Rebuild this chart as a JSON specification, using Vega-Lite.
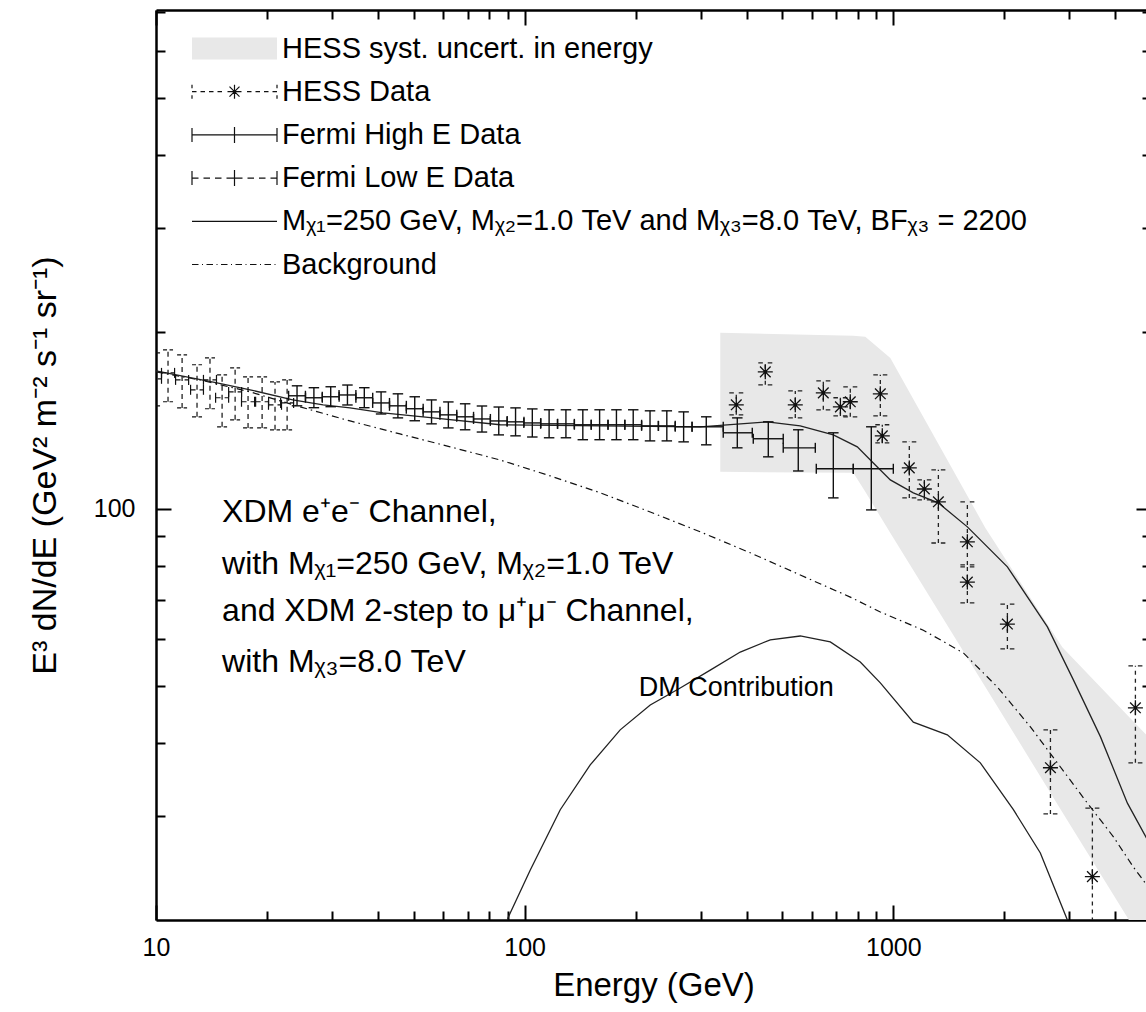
{
  "$schema": "https://vega.github.io/schema/vega-lite/v6.json",
  "width": 995,
  "height": 910,
  "autosize": {"type": "none"},
  "padding": {"left": 156, "top": 10, "right": -5, "bottom": 92},
  "config": {
    "view": {"stroke": null},
    "font": "Liberation Sans",
    "axis": {
      "grid": false,
      "domainColor": "black",
      "domainWidth": 2.5,
      "tickColor": "black",
      "tickWidth": 2,
      "labelFont": "Liberation Sans",
      "labelFontSize": 25,
      "labelColor": "black",
      "labelFlush": false,
      "labelOverlap": false,
      "titleFont": "Liberation Sans",
      "titleFontSize": 33,
      "titleFontWeight": "normal",
      "titleColor": "black"
    }
  },
  "datasets": {
    "curves": [
      {"curve": "model", "E": 10, "flux": 171.7},
      {"curve": "model", "E": 14.64, "flux": 163.8},
      {"curve": "model", "E": 18.0, "flux": 159.4},
      {"curve": "model", "E": 23.5, "flux": 153.2},
      {"curve": "model", "E": 28.4, "flux": 150.3},
      {"curve": "model", "E": 33.6, "flux": 148.5},
      {"curve": "model", "E": 41.3, "flux": 145.6},
      {"curve": "model", "E": 56.4, "flux": 142.8},
      {"curve": "model", "E": 85.8, "flux": 139.0},
      {"curve": "model", "E": 160.3, "flux": 138.4},
      {"curve": "model", "E": 299.5, "flux": 137.9},
      {"curve": "model", "E": 455, "flux": 140.6},
      {"curve": "model", "E": 559, "flux": 138.4},
      {"curve": "model", "E": 687.5, "flux": 133.6},
      {"curve": "model", "E": 798.5, "flux": 127.5},
      {"curve": "model", "E": 882.6, "flux": 119.7},
      {"curve": "model", "E": 981.5, "flux": 112.0},
      {"curve": "model", "E": 1133, "flux": 106.5},
      {"curve": "model", "E": 1324, "flux": 102.4},
      {"curve": "model", "E": 1588, "flux": 93.2},
      {"curve": "model", "E": 2039, "flux": 79.7},
      {"curve": "model", "E": 2618, "flux": 63.0},
      {"curve": "model", "E": 3079, "flux": 51.2},
      {"curve": "model", "E": 3645, "flux": 41.0},
      {"curve": "model", "E": 4315, "flux": 31.6},
      {"curve": "model", "E": 4982, "flux": 26.8},
      {"curve": "bg", "E": 10, "flux": 171.0},
      {"curve": "bg", "E": 13.16, "flux": 165.7},
      {"curve": "bg", "E": 18.0, "flux": 158.1},
      {"curve": "bg", "E": 24.6, "flux": 149.1},
      {"curve": "bg", "E": 33.6, "flux": 141.1},
      {"curve": "bg", "E": 45.9, "flux": 134.1},
      {"curve": "bg", "E": 62.8, "flux": 127.5},
      {"curve": "bg", "E": 85.8, "flux": 121.1},
      {"curve": "bg", "E": 117.3, "flux": 113.8},
      {"curve": "bg", "E": 160.3, "flux": 106.5},
      {"curve": "bg", "E": 219.1, "flux": 98.8},
      {"curve": "bg", "E": 299.5, "flux": 91.4},
      {"curve": "bg", "E": 409.2, "flux": 84.2},
      {"curve": "bg", "E": 559.2, "flux": 77.2},
      {"curve": "bg", "E": 764.3, "flux": 70.8},
      {"curve": "bg", "E": 922, "flux": 66.8},
      {"curve": "bg", "E": 1206, "flux": 62.2},
      {"curve": "bg", "E": 1549, "flux": 56.9},
      {"curve": "bg", "E": 1915, "flux": 49.8},
      {"curve": "bg", "E": 2354, "flux": 42.6},
      {"curve": "bg", "E": 2786, "flux": 37.0},
      {"curve": "bg", "E": 3361, "flux": 31.6},
      {"curve": "bg", "E": 3954, "flux": 27.7},
      {"curve": "bg", "E": 4480, "flux": 24.6},
      {"curve": "bg", "E": 4982, "flux": 22.5},
      {"curve": "dm", "E": 85, "flux": 17.0},
      {"curve": "dm", "E": 90.2, "flux": 20.2},
      {"curve": "dm", "E": 103.5, "flux": 24.3},
      {"curve": "dm", "E": 124.9, "flux": 30.8},
      {"curve": "dm", "E": 150.6, "flux": 36.7},
      {"curve": "dm", "E": 181.6, "flux": 42.1},
      {"curve": "dm", "E": 219.1, "flux": 46.4},
      {"curve": "dm", "E": 264.2, "flux": 49.6},
      {"curve": "dm", "E": 318.7, "flux": 53.2},
      {"curve": "dm", "E": 384.4, "flux": 57.1},
      {"curve": "dm", "E": 463.7, "flux": 59.9},
      {"curve": "dm", "E": 559.2, "flux": 60.8},
      {"curve": "dm", "E": 674.5, "flux": 59.4},
      {"curve": "dm", "E": 813.6, "flux": 54.9},
      {"curve": "dm", "E": 922, "flux": 50.6},
      {"curve": "dm", "E": 1133, "flux": 43.4},
      {"curve": "dm", "E": 1401, "flux": 41.3},
      {"curve": "dm", "E": 1722, "flux": 37.0},
      {"curve": "dm", "E": 2117, "flux": 30.8},
      {"curve": "dm", "E": 2505, "flux": 26.0},
      {"curve": "dm", "E": 2966, "flux": 20.0},
      {"curve": "dm", "E": 3100, "flux": 18.0}
    ],
    "band": [
      {"E": 339.3, "upper": 199.2, "lower": 115.6},
      {"E": 778.9, "upper": 196.9, "lower": 115.2},
      {"E": 839.5, "upper": 196.1, "lower": 106.9},
      {"E": 981.5, "upper": 180.6, "lower": 91.0},
      {"E": 1777, "upper": 92.8, "lower": 49.8},
      {"E": 2874, "upper": 58.2, "lower": 30.5},
      {"E": 4315, "upper": 44.6, "lower": 20.2},
      {"E": 5000, "upper": 40.5, "lower": 17.0}
    ],
    "fermiHigh": [
      {"E": 24.13, "Elo": 22.89, "Ehi": 25.43, "flux": 155.7, "lo": 149.7, "hi": 161.9},
      {"E": 26.81, "Elo": 25.44, "Ehi": 28.26, "flux": 154.5, "lo": 148.6, "hi": 160.7},
      {"E": 29.78, "Elo": 28.25, "Ehi": 31.39, "flux": 155.1, "lo": 149.2, "hi": 161.3},
      {"E": 33.06, "Elo": 31.37, "Ehi": 34.85, "flux": 156.2, "lo": 150.2, "hi": 162.4},
      {"E": 36.73, "Elo": 34.85, "Ehi": 38.71, "flux": 154.5, "lo": 148.6, "hi": 160.7},
      {"E": 40.79, "Elo": 38.70, "Ehi": 42.99, "flux": 151.4, "lo": 145.0, "hi": 158.1},
      {"E": 45.31, "Elo": 42.99, "Ehi": 47.76, "flux": 149.7, "lo": 142.8, "hi": 156.9},
      {"E": 50.33, "Elo": 47.75, "Ehi": 53.05, "flux": 148.0, "lo": 141.2, "hi": 155.1},
      {"E": 55.90, "Elo": 53.04, "Ehi": 58.92, "flux": 146.2, "lo": 139.5, "hi": 153.2},
      {"E": 62.09, "Elo": 58.91, "Ehi": 65.44, "flux": 144.5, "lo": 137.3, "hi": 152.0},
      {"E": 68.95, "Elo": 65.42, "Ehi": 72.67, "flux": 143.4, "lo": 136.3, "hi": 150.9},
      {"E": 76.59, "Elo": 72.67, "Ehi": 80.73, "flux": 142.2, "lo": 135.1, "hi": 149.6},
      {"E": 85.06, "Elo": 80.70, "Ehi": 89.65, "flux": 141.1, "lo": 133.6, "hi": 149.0},
      {"E": 94.47, "Elo": 89.63, "Ehi": 99.57, "flux": 140.6, "lo": 133.1, "hi": 148.5},
      {"E": 104.9, "Elo": 99.5, "Ehi": 110.6, "flux": 140.0, "lo": 132.5, "hi": 147.9},
      {"E": 116.5, "Elo": 110.5, "Ehi": 122.8, "flux": 139.5, "lo": 132.1, "hi": 147.4},
      {"E": 129.4, "Elo": 122.8, "Ehi": 136.4, "flux": 139.5, "lo": 132.1, "hi": 147.4},
      {"E": 143.8, "Elo": 136.4, "Ehi": 151.6, "flux": 139.0, "lo": 131.1, "hi": 147.4},
      {"E": 159.7, "Elo": 151.5, "Ehi": 168.3, "flux": 139.0, "lo": 131.1, "hi": 147.4},
      {"E": 177.4, "Elo": 168.3, "Ehi": 187.0, "flux": 139.0, "lo": 131.1, "hi": 147.4},
      {"E": 197.0, "Elo": 186.9, "Ehi": 207.6, "flux": 139.0, "lo": 131.1, "hi": 147.4},
      {"E": 218.8, "Elo": 207.6, "Ehi": 230.6, "flux": 138.4, "lo": 130.5, "hi": 146.8},
      {"E": 243.0, "Elo": 230.5, "Ehi": 256.1, "flux": 138.4, "lo": 130.5, "hi": 146.8},
      {"E": 269.9, "Elo": 256.1, "Ehi": 284.5, "flux": 137.9, "lo": 130.0, "hi": 146.2},
      {"E": 310.9, "Elo": 284.5, "Ehi": 345.7, "flux": 137.9, "lo": 128.5, "hi": 143.4},
      {"E": 377.4, "Elo": 345.7, "Ehi": 414.4, "flux": 134.7, "lo": 127.0, "hi": 142.8},
      {"E": 458.0, "Elo": 417.0, "Ehi": 502.8, "flux": 131.6, "lo": 122.6, "hi": 140.6},
      {"E": 552.3, "Elo": 502.8, "Ehi": 614.3, "flux": 127.0, "lo": 116.0, "hi": 136.3},
      {"E": 687.5, "Elo": 618.1, "Ehi": 778.9, "flux": 117.0, "lo": 104.4, "hi": 134.7},
      {"E": 871.5, "Elo": 778.9, "Ehi": 1000, "flux": 117.0, "lo": 99.6, "hi": 137.9}
    ],
    "fermiLow": [
      {"E": 9.94, "Elo": 9.55, "Ehi": 10.35, "flux": 166.4, "lo": 149.7, "hi": 184.2},
      {"E": 10.78, "Elo": 10.35, "Ehi": 11.23, "flux": 170.3, "lo": 152.1, "hi": 186.4},
      {"E": 11.77, "Elo": 11.30, "Ehi": 12.26, "flux": 165.7, "lo": 148.5, "hi": 182.7},
      {"E": 12.92, "Elo": 12.41, "Ehi": 13.45, "flux": 159.4, "lo": 143.4, "hi": 175.8},
      {"E": 14.01, "Elo": 13.45, "Ehi": 14.59, "flux": 165.7, "lo": 148.0, "hi": 180.6},
      {"E": 15.11, "Elo": 14.51, "Ehi": 15.74, "flux": 154.5, "lo": 137.9, "hi": 169.0},
      {"E": 16.39, "Elo": 15.74, "Ehi": 17.07, "flux": 158.1, "lo": 141.7, "hi": 173.7},
      {"E": 17.77, "Elo": 17.06, "Ehi": 18.51, "flux": 152.1, "lo": 137.3, "hi": 167.7},
      {"E": 19.40, "Elo": 18.63, "Ehi": 20.20, "flux": 152.1, "lo": 137.3, "hi": 167.7},
      {"E": 21.03, "Elo": 20.19, "Ehi": 21.90, "flux": 150.3, "lo": 136.3, "hi": 164.4},
      {"E": 22.68, "Elo": 21.78, "Ehi": 23.62, "flux": 151.4, "lo": 136.3, "hi": 165.7}
    ],
    "hess": [
      {"E": 375.0, "flux": 150.3, "lo": 144.5, "hi": 157.5},
      {"E": 449.5, "flux": 171.0, "lo": 162.5, "hi": 177.1},
      {"E": 542.1, "flux": 150.3, "lo": 142.8, "hi": 158.7},
      {"E": 645.8, "flux": 157.5, "lo": 147.4, "hi": 165.1},
      {"E": 718.5, "flux": 149.1, "lo": 143.9, "hi": 154.5},
      {"E": 764.3, "flux": 152.1, "lo": 143.4, "hi": 161.2},
      {"E": 922, "flux": 156.9, "lo": 143.9, "hi": 169.0},
      {"E": 933.5, "flux": 133.1, "lo": 129.5, "hi": 139.0},
      {"E": 1105, "flux": 117.4, "lo": 104.4, "hi": 130.0},
      {"E": 1214, "flux": 108.1, "lo": 103.6, "hi": 112.0},
      {"E": 1325, "flux": 102.8, "lo": 87.5, "hi": 116.5},
      {"E": 1588, "flux": 87.9, "lo": 80.3, "hi": 102.8},
      {"E": 1588, "flux": 75.1, "lo": 69.2, "hi": 79.7},
      {"E": 2039, "flux": 63.7, "lo": 57.8, "hi": 68.9},
      {"E": 2668, "flux": 36.3, "lo": 30.3, "hi": 42.1},
      {"E": 3467, "flux": 23.7, "lo": 15.0, "hi": 31.0},
      {"E": 4536, "flux": 45.9, "lo": 37.0, "hi": 54.1}
    ],
    "notes": [
      {"E": 15.11, "flux": 98.8, "text": "XDM e⁺e⁻ Channel,"},
      {"E": 15.11, "flux": 80.6, "text": "with Mᵪ₁=250 GeV, Mᵪ₂=1.0 TeV"},
      {"E": 15.11, "flux": 67.1, "text": "and XDM 2-step to μ⁺μ⁻ Channel,"},
      {"E": 15.11, "flux": 54.9, "text": "with Mᵪ₃=8.0 TeV"}
    ],
    "dmLabel": [
      {"E": 375, "flux": 49.6, "text": "DM Contribution"}
    ],
    "legendEntries": [
      {"series": "HESS syst. uncert. in energy"},
      {"series": "HESS Data"},
      {"series": "Fermi High E Data"},
      {"series": "Fermi Low E Data"},
      {"series": "Mᵪ₁=250 GeV, Mᵪ₂=1.0 TeV and Mᵪ₃=8.0 TeV, BFᵪ₃ = 2200"},
      {"series": "Background"}
    ]
  },
  "resolve": {"axis": {"x": "independent", "y": "independent"}},
  "layer": [
    {
      "data": {"name": "band"},
      "mark": {"type": "area", "color": "#e8e8e8", "clip": true},
      "encoding": {
        "x": {"field": "E", "type": "quantitative", "scale": {"type": "log", "domain": [10, 5000], "nice": false},
          "axis": {"orient": "bottom", "values": [10, 100, 1000], "format": "d", "tickSize": -15, "labelPadding": 30, "title": "Energy (GeV)", "titleY": 65, "titleBaseline": "middle"}},
        "y": {"field": "upper", "type": "quantitative", "scale": {"type": "log", "domain": [20, 705], "nice": false},
          "axis": {"orient": "left", "values": [100], "format": "d", "tickSize": -15, "labelPadding": 36, "title": "E³ dN/dE (GeV² m⁻² s⁻¹ sr⁻¹)", "titleX": -111, "titleY": 455, "titleAngle": 270, "titleAlign": "center", "titleBaseline": "middle", "titleFontSize": 34}},
        "y2": {"field": "lower"}
      }
    },
    {
      "data": {"name": "curves"},
      "transform": [{"filter": "datum.curve == 'bg'"}],
      "mark": {"type": "line", "color": "#111", "strokeWidth": 1.2, "strokeDash": [7, 4, 1.5, 4], "clip": true},
      "encoding": {
        "x": {"field": "E", "type": "quantitative", "scale": {"type": "log", "domain": [10, 5000], "nice": false},
          "axis": {"orient": "bottom", "values": [20, 30, 40, 50, 60, 70, 80, 90, 200, 300, 400, 500, 600, 700, 800, 900, 2000, 3000, 4000], "tickSize": -9, "labels": false, "title": null, "domain": false}},
        "y": {"field": "flux", "type": "quantitative", "scale": {"type": "log", "domain": [20, 705], "nice": false},
          "axis": {"orient": "left", "values": [30, 40, 50, 60, 70, 80, 90, 200, 300, 400, 500, 600, 700], "tickSize": -9, "labels": false, "title": null, "domain": false}}
      }
    },
    {
      "data": {"name": "curves"},
      "transform": [{"filter": "datum.curve == 'dm'"}],
      "mark": {"type": "line", "color": "#222", "strokeWidth": 1.3, "clip": true},
      "encoding": {
        "x": {"field": "E", "type": "quantitative", "scale": {"type": "log", "domain": [10, 5000], "nice": false},
          "axis": {"orient": "top", "values": [10, 100, 1000], "tickSize": -15, "labels": false, "title": null}},
        "y": {"field": "flux", "type": "quantitative", "scale": {"type": "log", "domain": [20, 705], "nice": false},
          "axis": {"orient": "right", "values": [100], "tickSize": -15, "labels": false, "title": null}}
      }
    },
    {
      "data": {"name": "curves"},
      "transform": [{"filter": "datum.curve == 'model'"}],
      "mark": {"type": "line", "color": "#222", "strokeWidth": 1.3, "clip": true},
      "encoding": {
        "x": {"field": "E", "type": "quantitative", "scale": {"type": "log", "domain": [10, 5000], "nice": false},
          "axis": {"orient": "top", "values": [20, 30, 40, 50, 60, 70, 80, 90, 200, 300, 400, 500, 600, 700, 800, 900, 2000, 3000, 4000], "tickSize": -9, "labels": false, "title": null, "domain": false}},
        "y": {"field": "flux", "type": "quantitative", "scale": {"type": "log", "domain": [20, 705], "nice": false},
          "axis": {"orient": "right", "values": [30, 40, 50, 60, 70, 80, 90, 200, 300, 400, 500, 600, 700], "tickSize": -9, "labels": false, "title": null, "domain": false}}
      }
    },
    {
      "data": {"name": "fermiLow"},
      "mark": {"type": "rule", "color": "#111", "strokeWidth": 1.2, "strokeDash": [5, 4], "clip": true},
      "encoding": {
        "x": {"field": "E", "type": "quantitative", "scale": {"type": "log", "domain": [10, 5000], "nice": false}, "axis": null},
        "y": {"field": "lo", "type": "quantitative", "scale": {"type": "log", "domain": [20, 705], "nice": false}, "axis": null},
        "y2": {"field": "hi"}
      }
    },
    {
      "data": {"name": "fermiLow"},
      "mark": {"type": "rule", "color": "#111", "strokeWidth": 1.2, "strokeDash": [5, 4], "clip": true},
      "encoding": {
        "x": {"field": "Elo", "type": "quantitative", "scale": {"type": "log", "domain": [10, 5000], "nice": false}, "axis": null},
        "x2": {"field": "Ehi"},
        "y": {"field": "flux", "type": "quantitative", "scale": {"type": "log", "domain": [20, 705], "nice": false}, "axis": null}
      }
    },
    {
      "data": {"name": "fermiLow"},
      "transform": [{"fold": ["lo", "hi"], "as": ["end", "capY"]}],
      "mark": {"type": "point", "shape": "M-1,0L-0.2,0M0.3,0L1,0", "size": 100, "filled": false, "stroke": "#111", "strokeWidth": 1.2, "opacity": 1, "clip": true},
      "encoding": {
        "x": {"field": "E", "type": "quantitative", "scale": {"type": "log", "domain": [10, 5000], "nice": false}, "axis": null},
        "y": {"field": "capY", "type": "quantitative", "scale": {"type": "log", "domain": [20, 705], "nice": false}, "axis": null}
      }
    },
    {
      "data": {"name": "fermiLow"},
      "transform": [{"fold": ["Elo", "Ehi"], "as": ["end", "capX"]}],
      "mark": {"type": "point", "shape": "M0,-1L0,1", "size": 100, "filled": false, "stroke": "#111", "strokeWidth": 1.2, "opacity": 1, "clip": true},
      "encoding": {
        "x": {"field": "capX", "type": "quantitative", "scale": {"type": "log", "domain": [10, 5000], "nice": false}, "axis": null},
        "y": {"field": "flux", "type": "quantitative", "scale": {"type": "log", "domain": [20, 705], "nice": false}, "axis": null}
      }
    },
    {
      "data": {"name": "fermiHigh"},
      "mark": {"type": "rule", "color": "#111", "strokeWidth": 1.4, "clip": true},
      "encoding": {
        "x": {"field": "E", "type": "quantitative", "scale": {"type": "log", "domain": [10, 5000], "nice": false}, "axis": null},
        "y": {"field": "lo", "type": "quantitative", "scale": {"type": "log", "domain": [20, 705], "nice": false}, "axis": null},
        "y2": {"field": "hi"}
      }
    },
    {
      "data": {"name": "fermiHigh"},
      "mark": {"type": "rule", "color": "#111", "strokeWidth": 1.4, "clip": true},
      "encoding": {
        "x": {"field": "Elo", "type": "quantitative", "scale": {"type": "log", "domain": [10, 5000], "nice": false}, "axis": null},
        "x2": {"field": "Ehi"},
        "y": {"field": "flux", "type": "quantitative", "scale": {"type": "log", "domain": [20, 705], "nice": false}, "axis": null}
      }
    },
    {
      "data": {"name": "fermiHigh"},
      "transform": [{"fold": ["lo", "hi"], "as": ["end", "capY"]}],
      "mark": {"type": "point", "shape": "M-1,0L1,0", "size": 110, "filled": false, "stroke": "#111", "strokeWidth": 1.4, "opacity": 1, "clip": true},
      "encoding": {
        "x": {"field": "E", "type": "quantitative", "scale": {"type": "log", "domain": [10, 5000], "nice": false}, "axis": null},
        "y": {"field": "capY", "type": "quantitative", "scale": {"type": "log", "domain": [20, 705], "nice": false}, "axis": null}
      }
    },
    {
      "data": {"name": "fermiHigh"},
      "transform": [{"fold": ["Elo", "Ehi"], "as": ["end", "capX"]}],
      "mark": {"type": "point", "shape": "M0,-1L0,1", "size": 100, "filled": false, "stroke": "#111", "strokeWidth": 1.4, "opacity": 1, "clip": true},
      "encoding": {
        "x": {"field": "capX", "type": "quantitative", "scale": {"type": "log", "domain": [10, 5000], "nice": false}, "axis": null},
        "y": {"field": "flux", "type": "quantitative", "scale": {"type": "log", "domain": [20, 705], "nice": false}, "axis": null}
      }
    },
    {
      "data": {"name": "hess"},
      "mark": {"type": "rule", "color": "#222", "strokeWidth": 1.3, "strokeDash": [4, 4], "clip": true},
      "encoding": {
        "x": {"field": "E", "type": "quantitative", "scale": {"type": "log", "domain": [10, 5000], "nice": false}, "axis": null},
        "y": {"field": "lo", "type": "quantitative", "scale": {"type": "log", "domain": [20, 705], "nice": false}, "axis": null},
        "y2": {"field": "hi"}
      }
    },
    {
      "data": {"name": "hess"},
      "transform": [{"fold": ["lo", "hi"], "as": ["end", "capY"]}],
      "mark": {"type": "point", "shape": "M-1,0L-0.35,0M0.35,0L1,0", "size": 196, "filled": false, "stroke": "#222", "strokeWidth": 1.3, "opacity": 1, "clip": true},
      "encoding": {
        "x": {"field": "E", "type": "quantitative", "scale": {"type": "log", "domain": [10, 5000], "nice": false}, "axis": null},
        "y": {"field": "capY", "type": "quantitative", "scale": {"type": "log", "domain": [20, 705], "nice": false}, "axis": null}
      }
    },
    {
      "data": {"name": "hess"},
      "mark": {"type": "point", "shape": "M0,-1L0,1M-1,0L1,0M-0.71,-0.71L0.71,0.71M-0.71,0.71L0.71,-0.71", "size": 225, "filled": false, "stroke": "#111", "strokeWidth": 1.3, "opacity": 1, "clip": true},
      "encoding": {
        "x": {"field": "E", "type": "quantitative", "scale": {"type": "log", "domain": [10, 5000], "nice": false}, "axis": null},
        "y": {"field": "flux", "type": "quantitative", "scale": {"type": "log", "domain": [20, 705], "nice": false}, "axis": null}
      }
    },
    {
      "data": {"name": "hess"},
      "mark": {"type": "point", "shape": "circle", "size": 12, "filled": true, "color": "#111", "opacity": 1, "clip": true},
      "encoding": {
        "x": {"field": "E", "type": "quantitative", "scale": {"type": "log", "domain": [10, 5000], "nice": false}, "axis": null},
        "y": {"field": "flux", "type": "quantitative", "scale": {"type": "log", "domain": [20, 705], "nice": false}, "axis": null}
      }
    },
    {
      "data": {"name": "notes"},
      "mark": {"type": "text", "align": "left", "baseline": "middle", "font": "Liberation Sans", "fontSize": 32, "color": "black"},
      "encoding": {
        "x": {"field": "E", "type": "quantitative", "scale": {"type": "log", "domain": [10, 5000], "nice": false}, "axis": null},
        "y": {"field": "flux", "type": "quantitative", "scale": {"type": "log", "domain": [20, 705], "nice": false}, "axis": null},
        "text": {"field": "text"}
      }
    },
    {
      "data": {"name": "dmLabel"},
      "mark": {"type": "text", "align": "center", "baseline": "middle", "font": "Liberation Sans", "fontSize": 27, "color": "black"},
      "encoding": {
        "x": {"field": "E", "type": "quantitative", "scale": {"type": "log", "domain": [10, 5000], "nice": false}, "axis": null},
        "y": {"field": "flux", "type": "quantitative", "scale": {"type": "log", "domain": [20, 705], "nice": false}, "axis": null},
        "text": {"field": "text"}
      }
    },
    {
      "data": {"name": "legendEntries"},
      "mark": {"type": "point", "opacity": 0, "filled": false},
      "encoding": {
        "shape": {
          "field": "series", "type": "nominal",
          "scale": {
            "domain": ["HESS syst. uncert. in energy", "HESS Data", "Fermi High E Data", "Fermi Low E Data", "Mᵪ₁=250 GeV, Mᵪ₂=1.0 TeV and Mᵪ₃=8.0 TeV, BFᵪ₃ = 2200", "Background"],
            "range": [
              "M-4.25,-1.1L4.25,-1.1L4.25,1.1L-4.25,1.1Z",
              "M-4.25,-0.7L-4.25,-0.35M-4.25,0.35L-4.25,0.7M4.25,-0.7L4.25,-0.35M4.25,0.35L4.25,0.7M-4.25,0L-3.8,0M-3.4,0L-2.95,0M-2.55,0L-2.1,0M-1.7,0L-1.25,0M1.25,0L1.7,0M2.1,0L2.55,0M2.95,0L3.4,0M3.8,0L4.25,0M0,-0.7L0,0.7M-0.7,0L0.7,0M-0.5,-0.5L0.5,0.5M-0.5,0.5L0.5,-0.5",
              "M-4.25,0L4.25,0M-4.25,-0.7L-4.25,0.7M4.25,-0.7L4.25,0.7M0,-0.8L0,0.8",
              "M-4.25,-0.7L-4.25,0.7M4.25,-0.7L4.25,0.7M0,-0.8L0,0.8M-4.25,0L-3.6,0M-3.1,0L-2.45,0M-1.95,0L-1.3,0M-0.8,0L0.8,0M1.3,0L1.95,0M2.45,0L3.1,0M3.6,0L4.25,0",
              "M-4.25,0L4.25,0",
              "M-4.25,0L-3.6,0M-3.25,0L-3.15,0M-2.8,0L-2.15,0M-1.8,0L-1.7,0M-1.35,0L-0.7,0M-0.35,0L-0.25,0M0.1,0L0.75,0M1.1,0L1.2,0M1.55,0L2.2,0M2.55,0L2.65,0M3.0,0L3.65,0M4.0,0L4.1,0"
            ]
          },
          "legend": {
            "orient": "none", "legendX": 64, "legendY": 24, "title": null, "padding": 0,
            "rowPadding": 13.2, "symbolSize": 400, "symbolStrokeWidth": 1.2, "symbolOpacity": 1,
            "labelFont": "Liberation Sans", "labelFontSize": 29, "labelColor": "black",
            "labelOffset": 33, "labelLimit": 0
          }
        },
        "fill": {
          "field": "series", "type": "nominal",
          "scale": {
            "domain": ["HESS syst. uncert. in energy", "HESS Data", "Fermi High E Data", "Fermi Low E Data", "Mᵪ₁=250 GeV, Mᵪ₂=1.0 TeV and Mᵪ₃=8.0 TeV, BFᵪ₃ = 2200", "Background"],
            "range": ["#e8e8e8", "transparent", "transparent", "transparent", "transparent", "transparent"]
          }
        },
        "stroke": {
          "field": "series", "type": "nominal",
          "scale": {
            "domain": ["HESS syst. uncert. in energy", "HESS Data", "Fermi High E Data", "Fermi Low E Data", "Mᵪ₁=250 GeV, Mᵪ₂=1.0 TeV and Mᵪ₃=8.0 TeV, BFᵪ₃ = 2200", "Background"],
            "range": ["transparent", "#111", "#111", "#111", "#111", "#111"]
          }
        }
      }
    }
  ]
}
